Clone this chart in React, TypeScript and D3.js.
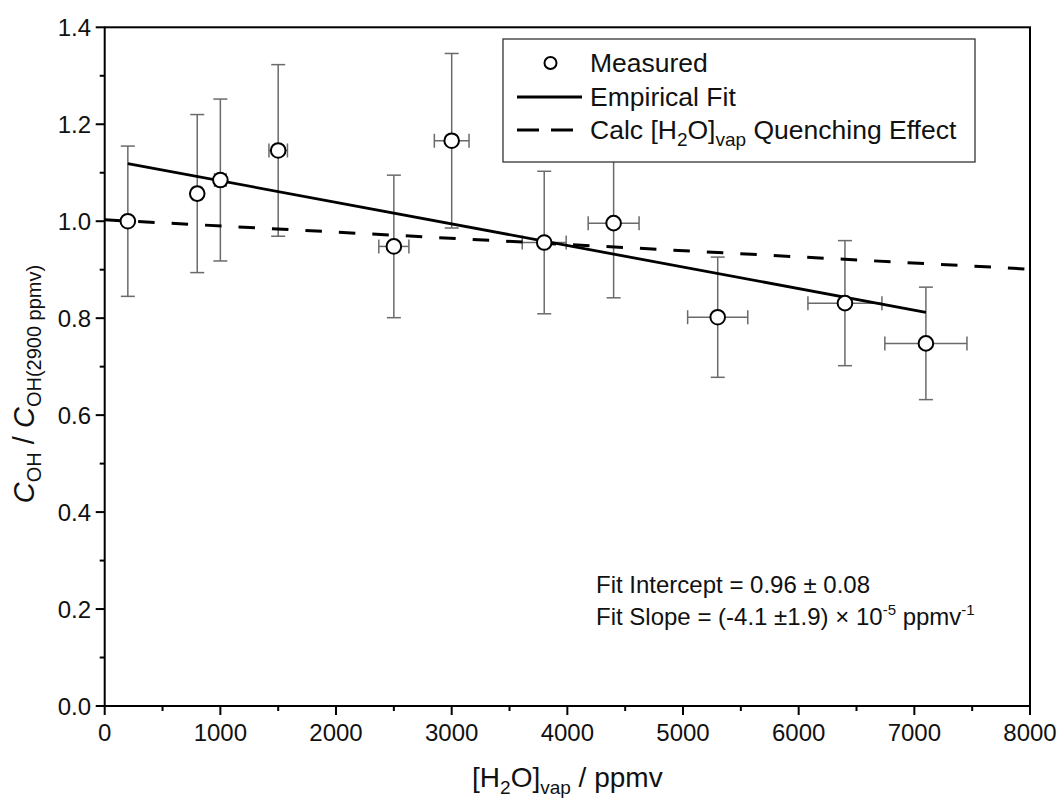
import React from "react";
import * as d3 from "d3";

// ---- data ----
const xVals = [200, 800, 1000, 1500, 2500, 3000, 3800, 4400, 5300, 6400, 7100];
const yVals = [1.0, 1.057, 1.085, 1.146, 0.948, 1.166, 0.956, 0.996, 0.802, 0.831, 0.748];
const yErr = [0.155, 0.163, 0.167, 0.177, 0.147, 0.18, 0.147, 0.154, 0.124, 0.129, 0.116];
const xErr = [10, 40, 50, 80, 130, 150, 190, 220, 260, 320, 355];

const fitX = [200, 7100];
const fitY = [1.119, 0.812];
const quenchX = [0, 8000];
const quenchY = [1.003, 0.901];

const xTicks = [0, 1000, 2000, 3000, 4000, 5000, 6000, 7000, 8000];
const xMinor = [500, 1500, 2500, 3500, 4500, 5500, 6500, 7500];
const yTicks = [0, 0.2, 0.4, 0.6, 0.8, 1.0, 1.2, 1.4];
const yMinor = [0.1, 0.3, 0.5, 0.7, 0.9, 1.1, 1.3];

const FONT = "'Liberation Sans', Arial, Helvetica, sans-serif";

export default function App() {
  const W = 1060, H = 799;
  const L = 104.7, R = 1030, T = 27.3, B = 706;
  const x = d3.scaleLinear().domain([0, 8000]).range([L, R]);
  const y = d3.scaleLinear().domain([0, 1.4]).range([B, T]);

  const pts = xVals.map((v, i) => ({ x: v, y: yVals[i], ex: xErr[i], ey: yErr[i] }));
  const line = d3.line<[number, number]>().x(d => x(d[0])).y(d => y(d[1]));
  const fitPts: [number, number][] = fitX.map((v, i) => [v, fitY[i]]);
  const qPts: [number, number][] = quenchX.map((v, i) => [v, quenchY[i]]);

  const cap = 7;
  const errColor = "#6a6a6a";

  return (
    <svg width={W} height={H} style={{ position: "absolute", left: 0, top: 0, background: "#fff" }} fontFamily={FONT}>
      <rect x={0} y={0} width={W} height={H} fill="#fff" />
      {/* error bars */}
      <g stroke={errColor} strokeWidth={1.5} fill="none">
        {pts.map((p, i) => (
          <g key={i}>
            <line x1={x(p.x)} x2={x(p.x)} y1={y(p.y - p.ey)} y2={y(p.y + p.ey)} />
            <line x1={x(p.x) - cap} x2={x(p.x) + cap} y1={y(p.y - p.ey)} y2={y(p.y - p.ey)} />
            <line x1={x(p.x) - cap} x2={x(p.x) + cap} y1={y(p.y + p.ey)} y2={y(p.y + p.ey)} />
            <line x1={x(p.x - p.ex)} x2={x(p.x + p.ex)} y1={y(p.y)} y2={y(p.y)} />
            <line x1={x(p.x - p.ex)} x2={x(p.x - p.ex)} y1={y(p.y) - cap} y2={y(p.y) + cap} />
            <line x1={x(p.x + p.ex)} x2={x(p.x + p.ex)} y1={y(p.y) - cap} y2={y(p.y) + cap} />
          </g>
        ))}
      </g>
      {/* lines */}
      <path d={line(qPts) || ""} stroke="#000" strokeWidth={3} fill="none" strokeDasharray="16.5 17" />
      <path d={line(fitPts) || ""} stroke="#000" strokeWidth={2.8} fill="none" />
      {/* markers */}
      <g>
        {pts.map((p, i) => (
          <circle key={i} cx={x(p.x)} cy={y(p.y)} r={7.3} fill="#fff" stroke="#000" strokeWidth={2} />
        ))}
      </g>
      {/* frame */}
      <rect x={L} y={T} width={R - L} height={B - T} fill="none" stroke="#000" strokeWidth={2} />
      {/* ticks */}
      <g stroke="#000" strokeWidth={2}>
        {xTicks.map(t => <line key={t} x1={x(t)} x2={x(t)} y1={B} y2={B + 9} />)}
        {xMinor.map(t => <line key={t} x1={x(t)} x2={x(t)} y1={B} y2={B + 5} />)}
        {yTicks.map(t => <line key={t} x1={L - 9} x2={L} y1={y(t)} y2={y(t)} />)}
        {yMinor.map(t => <line key={t} x1={L - 5} x2={L} y1={y(t)} y2={y(t)} />)}
      </g>
      <g fontSize={24} fill="#111">
        {xTicks.map(t => (
          <text key={t} x={x(t)} y={740.5} textAnchor="middle">{d3.format("d")(t)}</text>
        ))}
        {yTicks.map(t => (
          <text key={t} x={91} y={y(t)} dy="0.36em" textAnchor="end">{d3.format(".1f")(t)}</text>
        ))}
      </g>
      {/* x title */}
      <text x={(L + R) / 2} y={787} textAnchor="middle" fontSize={28} fill="#111">
        [H<tspan fontSize={19} dy={7}>2</tspan><tspan dy={-7}>O]</tspan><tspan fontSize={19} dy={7}>vap</tspan><tspan dy={-7}> / ppmv</tspan>
      </text>
      {/* y title */}
      <text transform={`translate(34, 384) rotate(-90)`} textAnchor="middle" fontSize={29} fill="#111">
        <tspan fontStyle="italic">C</tspan><tspan fontSize={20} dy={7}>OH</tspan><tspan dy={-7}> / </tspan><tspan fontStyle="italic">C</tspan><tspan fontSize={20} dy={7}>OH(2900 ppmv)</tspan>
      </text>
      {/* legend */}
      <rect x={503} y={39} width={472} height={123} fill="#fff" stroke="#333" strokeWidth={1.3} />
      <circle cx={550.5} cy={63} r={6} fill="#fff" stroke="#000" strokeWidth={2} />
      <line x1={517} x2={582} y1={97} y2={97} stroke="#000" strokeWidth={2.8} />
      <line x1={517} x2={582} y1={130} y2={130} stroke="#000" strokeWidth={3} strokeDasharray="22 12" />
      <g fontSize={26.5} fill="#111">
        <text x={590} y={72}>Measured</text>
        <text x={590} y={105.5}>Empirical Fit</text>
        <text x={590} y={138.5}>
          Calc [H<tspan fontSize={19} dy={7}>2</tspan><tspan dy={-7}>O]</tspan><tspan fontSize={19} dy={7}>vap</tspan><tspan dy={-7}> Quenching Effect</tspan>
        </text>
      </g>
      {/* annotation */}
      <g fontSize={24} fill="#111">
        <text x={596} y={593}>Fit Intercept = 0.96 ± 0.08</text>
        <text x={596} y={625}>
          Fit Slope = (-4.1 ±1.9) × 10<tspan fontSize={15} dy={-10}>-5</tspan><tspan dy={10}> ppmv</tspan><tspan fontSize={15} dy={-10}>-1</tspan>
        </text>
      </g>
    </svg>
  );
}
